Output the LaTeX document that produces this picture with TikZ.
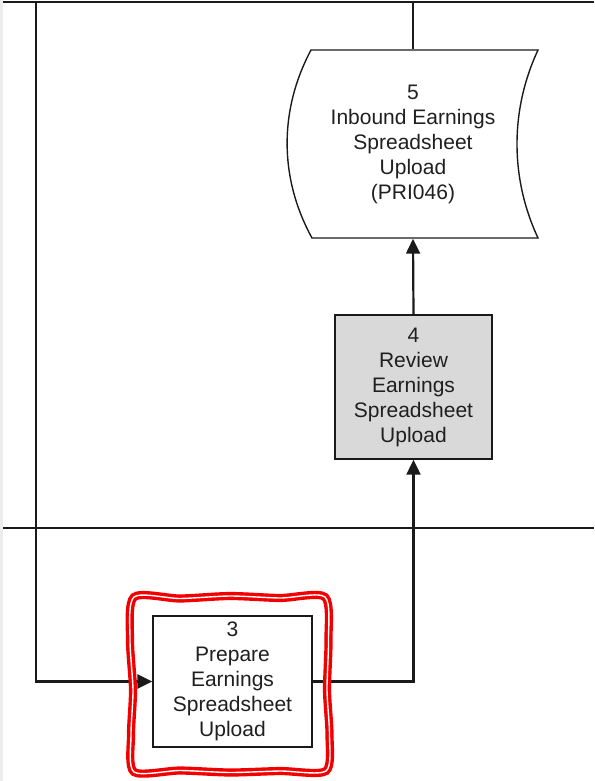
\documentclass[tikz,border=0pt]{standalone}
\usepackage{fontspec}
\setmainfont{Liberation Sans}
\usetikzlibrary{arrows.meta}
\definecolor{laneline}{HTML}{1A1A1A}
\definecolor{taskgray}{HTML}{D9D9D9}
\definecolor{hilite}{HTML}{F20000}
\begin{document}
\begin{tikzpicture}[x=1pt, y=-1pt,
        T node/.style={rectangle, draw=laneline, line width=1.4pt, align=center,
            font=\fontsize{21}{25}\selectfont, text=black!88, inner sep=0pt},
        flow/.style={draw=laneline, line width=2.2pt, -{Triangle[length=15pt,width=14pt]}}]
    \useasboundingbox (0,0) rectangle (594,781);
    \fill[black!7] (0,0) rectangle (3,781);

    % lanes
    \draw[laneline, line width=2.6pt] (3,2) -- (594,2);
    \draw[laneline, line width=2.6pt] (3,528) -- (594,528);
    \coordinate (src) at (36,2);
    \coordinate (top) at (413,2);

    \node[T node, draw=none, minimum width=227pt, minimum height=188pt] (5) at (413,144)
        {5\\Inbound Earnings\\Spreadsheet\\Upload\\(PRI046)};
    \draw[laneline, line width=1.4pt, shift={(5.center)}]
        (-102,-94) -- (125,-94) .. controls (97,-34) and (97,34) .. (125,94)
        -- (-101,94) .. controls (-134,34) and (-134,-34) .. (-102,-94) -- cycle;
    \node[T node, fill=taskgray, minimum width=157pt, minimum height=144pt] (4) at (413.5,387)
        {4\\Review\\Earnings\\Spreadsheet\\Upload};
    \node[T node, fill=white, minimum width=159pt, minimum height=131pt] (3) at (232.5,681.5)
        {3\\Prepare\\Earnings\\Spreadsheet\\Upload};

    \draw[laneline, line width=2.2pt] (5.north) -- (top);
    \draw[flow, line width=2.6pt] (src) |- (3.west);
    \draw[flow] (4.north) -- (5.south);
    \draw[flow] (3.east) -| (4.south);

    % highlight
    \draw[hilite, line width=3.4pt, double=white, double distance=1.4pt]
        plot[smooth cycle, tension=0.45] coordinates {
            (134,597) (180,598.5) (230,596) (280,598) (325,597)
            (328.5,640) (327,690) (329.5,735) (326,771)
            (280,771) (230,772.5) (180,770.5) (134,772)
            (131,735) (133,690) (130,640)};
\end{tikzpicture}
\end{document}
